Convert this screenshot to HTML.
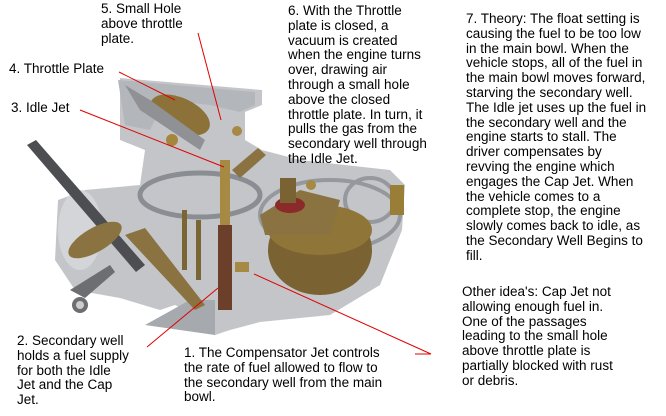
<!DOCTYPE html>
<html><head><style>
body{margin:0;background:#fff;}
#w{position:relative;width:666px;height:416px;overflow:hidden;background:#fff;font-family:"Liberation Sans",Arial,sans-serif;font-size:13.5px;line-height:14.8px;color:#000;}
.t{position:absolute;white-space:nowrap;}
svg{position:absolute;left:0;top:0;}
</style></head><body><div id="w">
<svg width="666" height="416" viewBox="0 0 666 416">
<path d="M120,78 L262,90 L262,105 L245,112 L245,140 L262,150 L300,160 L390,170 L405,185 L402,230 L380,285 L330,315 L260,322 L230,330 L215,335 L195,315 L175,305 L160,310 L120,298 L75,290 L55,260 L58,200 L85,190 L140,185 L145,150 L120,140 Z" fill="#c3c5c9"/>
<path d="M118,80 L255,92 L255,105 L240,112 L210,105 L165,100 L150,130 L125,125 Z" fill="#b3b6ba"/>
<ellipse cx="200" cy="195" rx="60" ry="22" fill="none" stroke="#8a8d92" stroke-width="5"/>
<ellipse cx="330" cy="215" rx="70" ry="35" fill="none" stroke="#95989c" stroke-width="4"/>
<ellipse cx="80" cy="230" rx="22" ry="40" fill="#d3d5d8"/>
<ellipse cx="370" cy="200" rx="25" ry="22" fill="none" stroke="#95989c" stroke-width="4"/>
<path d="M145,325 L190,300 L215,300 L215,335 Z" fill="#a6a9ad"/>
<path d="M27,145 L36,140 L145,265 L136,272 Z" fill="#4c4e52"/>
<path d="M125,235 L145,228 L205,305 L195,310 Z" fill="#8a7340"/>
<path d="M70,290 L110,265 L115,272 L85,298 Z" fill="#6d6e72"/>
<circle cx="80" cy="305" r="8" fill="#6d6e72"/><circle cx="80" cy="305" r="4" fill="#ccc"/>
<ellipse cx="95" cy="240" rx="30" ry="12" fill="#8a7340" transform="rotate(-30 95 240)"/>
<ellipse cx="180" cy="115" rx="32" ry="17" fill="#8c7238" transform="rotate(25 180 115)"/>
<circle cx="172" cy="140" r="6" fill="#a4873d"/>
<path d="M125,85 L150,100 L205,140 L200,150 L140,110 Z" fill="#8f9195"/>
<rect x="218" y="225" width="14" height="85" fill="#6b3f2a"/>
<rect x="220" y="160" width="10" height="65" fill="#a68a44"/>
<rect x="182" y="210" width="5" height="60" fill="#7a6535"/>
<rect x="196" y="220" width="5" height="60" fill="#7a6535"/>
<rect x="235" y="262" width="14" height="10" fill="#a68a44"/>
<path d="M232,170 L258,148 L266,155 L240,178 Z" fill="#8a7340"/>
<ellipse cx="320" cy="250" rx="52" ry="45" fill="#7a6232"/>
<ellipse cx="320" cy="230" rx="52" ry="25" fill="#8f7538"/>
<path d="M260,215 L300,190 L340,200 L330,235 L265,235 Z" fill="#8a7340"/>
<ellipse cx="290" cy="205" rx="15" ry="8" fill="#8a2a2a"/>
<rect x="280" y="178" width="16" height="25" fill="#7a6232"/>
<rect x="390" y="185" width="14" height="30" fill="#9a7d36"/>
<circle cx="311" cy="185" r="5" fill="#a68a44"/>
<circle cx="237" cy="131" r="5" fill="#a68a44"/>
<g stroke="#e00000" stroke-width="1" fill="none">
<line x1="198" y1="33" x2="221" y2="120"/>
<line x1="119" y1="72" x2="175" y2="100"/>
<line x1="80" y1="110" x2="224" y2="167"/>
<line x1="147" y1="347" x2="218" y2="288"/>
<line x1="254" y1="274" x2="431" y2="354"/>
<line x1="415" y1="354" x2="431" y2="354"/>
</g>
</svg>
<div class="t" style="left:101px;top:2px">5. Small Hole<br>above throttle<br>plate.</div>
<div class="t" style="left:288px;top:4px">6. With the Throttle<br>plate is closed, a<br>vacuum is created<br>when the engine turns<br>over, drawing air<br>through a small hole<br>above the closed<br>throttle plate. In turn, it<br>pulls the gas from the<br>secondary well through<br>the Idle Jet.</div>
<div class="t" style="left:9px;top:62px">4. Throttle Plate</div>
<div class="t" style="left:11px;top:101px">3. Idle Jet</div>
<div class="t" style="left:466px;top:12px">7. Theory: The float setting is<br>causing the fuel to be too low<br>in the main bowl. When the<br>vehicle stops, all of the fuel in<br>the main bowl moves forward,<br>starving the secondary well.<br>The Idle jet uses up the fuel in<br>the secondary well and the<br>engine starts to stall. The<br>driver compensates by<br>revving the engine which<br>engages the Cap Jet. When<br>the vehicle comes to a<br>complete stop, the engine<br>slowly comes back to idle, as<br>the Secondary Well Begins to<br>fill.</div>
<div class="t" style="left:462px;top:285px">Other idea's: Cap Jet not<br>allowing enough fuel in.<br>One of the passages<br>leading to the small hole<br>above throttle plate is<br>partially blocked with rust<br>or debris.</div>
<div class="t" style="left:17px;top:334px">2. Secondary well<br>holds a fuel supply<br>for both the Idle<br>Jet and the Cap<br>Jet.</div>
<div class="t" style="left:184px;top:346px">1. The Compensator Jet controls<br>the rate of fuel allowed to flow to<br>the secondary well from the main<br>bowl.</div>
</div></body></html>
